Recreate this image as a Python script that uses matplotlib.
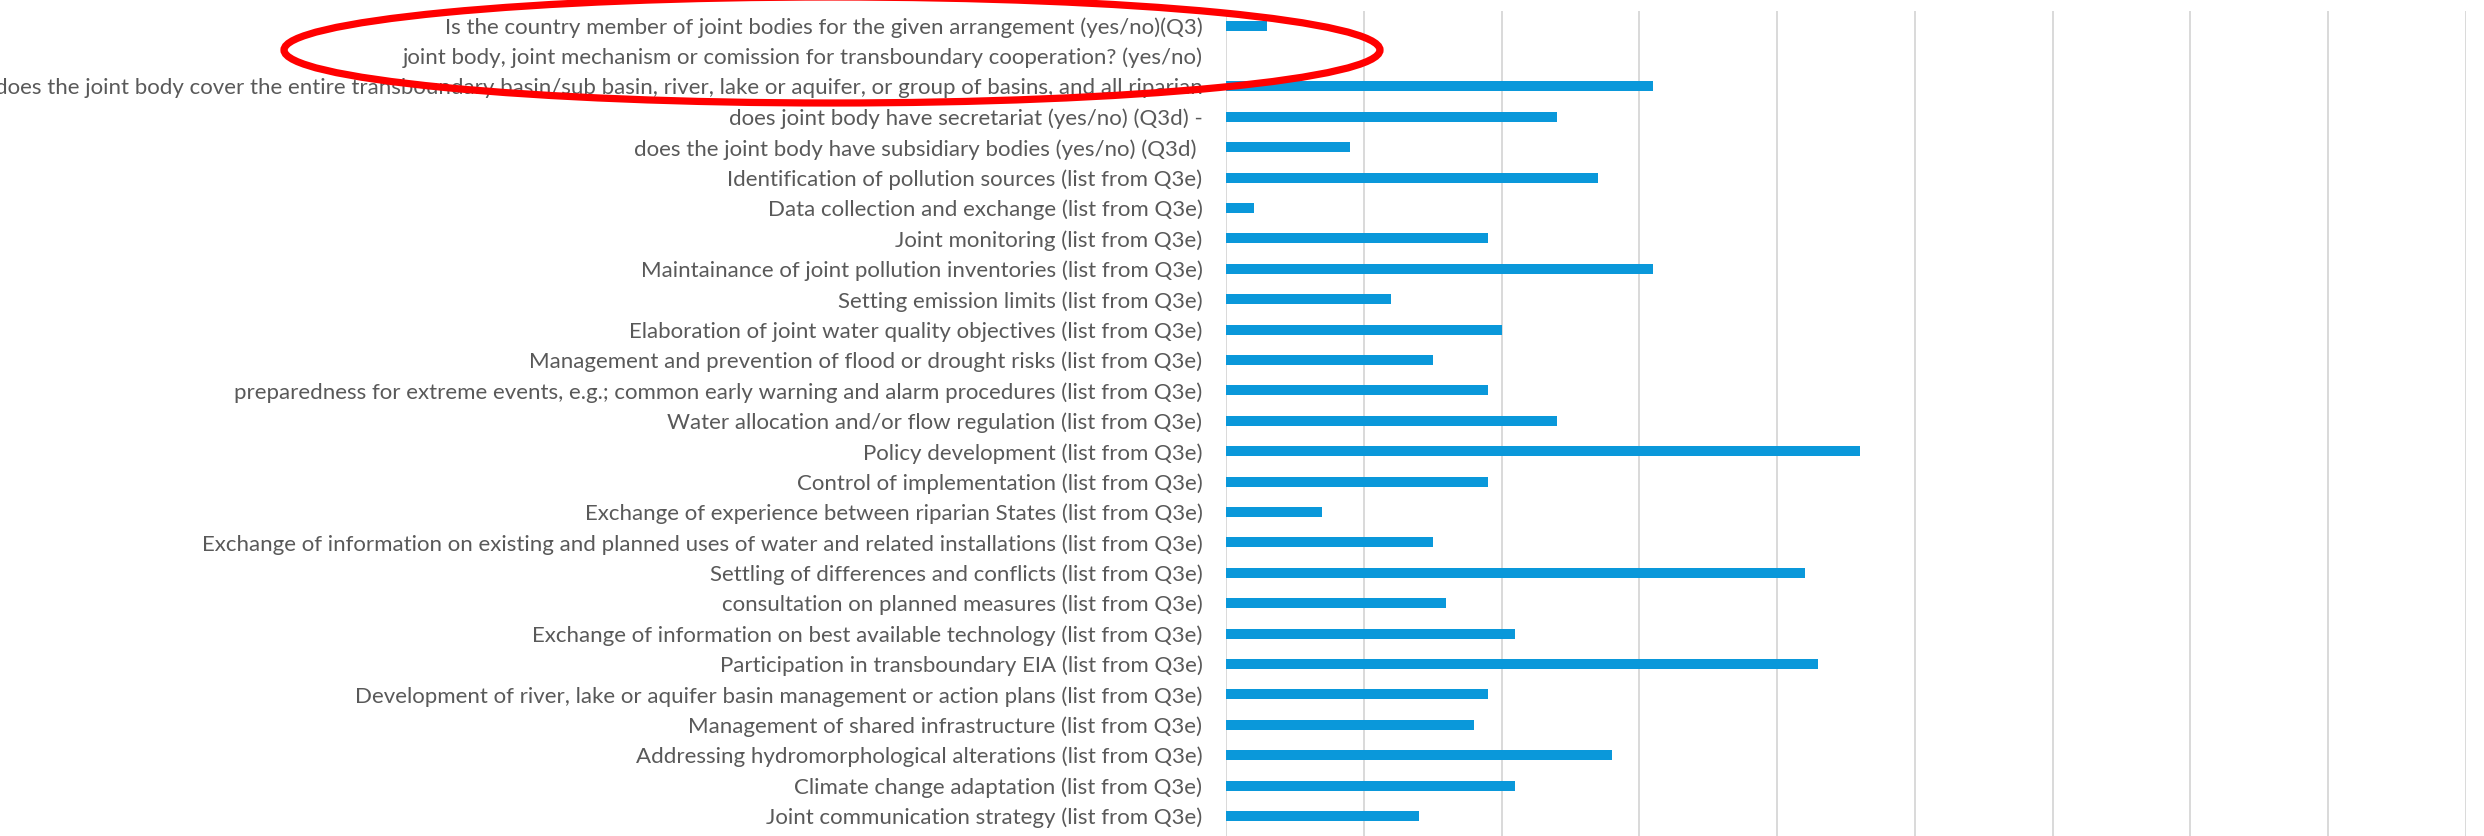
import numpy as np
import matplotlib
matplotlib.use('Agg')
import matplotlib.pyplot as plt
from matplotlib.patches import Ellipse

# categorias (de arriba hacia abajo) y valores
categorias = [
    "Is the country member of joint bodies for the given arrangement (yes/no)(Q3)",
    "joint body, joint mechanism or comission for transboundary cooperation? (yes/no)",
    "does the joint body cover the entire transboundary basin/sub basin, river, lake or aquifer, or group of basins, and all riparian",
    "does joint body have secretariat (yes/no) (Q3d) -",
    "does the joint body have subsidiary bodies (yes/no) (Q3d) ",
    "Identification of pollution sources (list from Q3e)",
    "Data collection and exchange (list from Q3e)",
    "Joint monitoring (list from Q3e)",
    "Maintainance of joint pollution inventories (list from Q3e)",
    "Setting emission limits (list from Q3e)",
    "Elaboration of joint water quality objectives (list from Q3e)",
    "Management and prevention of flood or drought risks (list from Q3e)",
    "preparedness for extreme events, e.g.; common early warning and alarm procedures (list from Q3e)",
    "Water allocation and/or flow regulation (list from Q3e)",
    "Policy development (list from Q3e)",
    "Control of implementation (list from Q3e)",
    "Exchange of experience between riparian States (list from Q3e)",
    "Exchange of information on existing and planned uses of water and related installations (list from Q3e)",
    "Settling of differences and conflicts (list from Q3e)",
    "consultation on planned measures (list from Q3e)",
    "Exchange of information on best available technology (list from Q3e)",
    "Participation in transboundary EIA (list from Q3e)",
    "Development of river, lake or aquifer basin management or action plans (list from Q3e)",
    "Management of shared infrastructure (list from Q3e)",
    "Addressing hydromorphological alterations (list from Q3e)",
    "Climate change adaptation (list from Q3e)",
    "Joint communication strategy (list from Q3e)",
]
valores = [3, 0, 31, 24, 9, 27, 2, 19, 31, 12, 20, 15, 19, 24, 46, 19, 7, 15,
           42, 16, 21, 43, 19, 18, 28, 21, 14]
x_max = 90
x_ticks = np.arange(0, x_max + 1, 10)

W, H = 2484, 836
fig = plt.figure(figsize=(W / 100, H / 100), dpi=100)
ax = fig.add_axes([1226 / W, 0.0, (2466 - 1226) / W, 1 - 10.5 / H])

y = np.arange(len(categorias))
ax.barh(y, valores, height=0.33, color='#0A98DA', zorder=3)

ax.set_xlim(0, x_max)
ax.set_ylim(26.66, -0.5)
ax.set_xticks(x_ticks)
ax.set_xticklabels([])
ax.set_yticks(y)
ax.set_yticklabels(categorias, fontsize=16, color='#595959', family=['Lato', 'DejaVu Sans'])
ax.tick_params(axis='both', length=0)
ax.tick_params(axis='y', pad=17)
ax.grid(axis='x', color='#D9D9D9', linewidth=1.4, zorder=0)
for s in ax.spines.values():
    s.set_visible(False)

# elipse roja de resaltado (coordenadas en pixeles de la figura)
cx, cy, ancho, alto = 832, 50, 1096, 106
elipse = Ellipse((cx / W, 1 - cy / H), ancho / W, alto / H, transform=fig.transFigure,
                 fill=False, edgecolor='#FF0000', linewidth=5.2, zorder=10)
fig.patches.append(elipse)

plt.savefig('out.png', dpi=100)
